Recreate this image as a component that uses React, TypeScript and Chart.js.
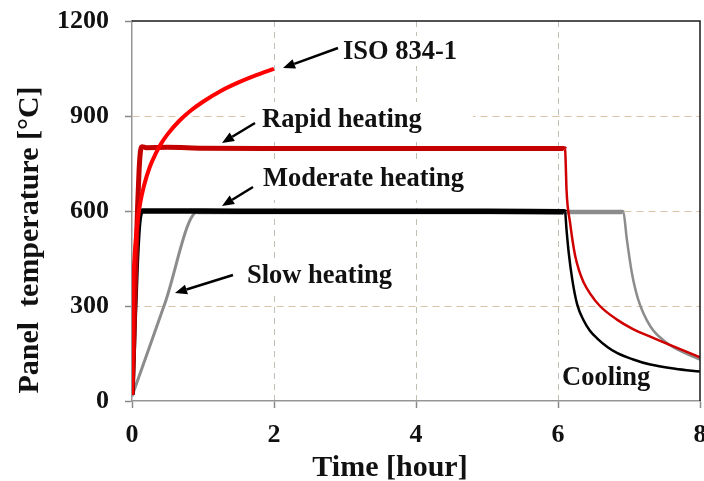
import React, { useEffect, useRef } from 'react';
import { Chart, registerables } from 'chart.js';

Chart.register(...registerables);

// ---- Data (time in hours, temperature in °C) ----
const isoTime = [0, 0.0167, 0.0333, 0.05, 0.0833, 0.1167, 0.1667, 0.25, 0.333, 0.4167, 0.5, 0.667, 0.833, 1.0, 1.25, 1.5, 1.75, 2.0];
const isoTemp = [20, 349, 445, 502, 576, 626, 678, 739, 781, 815, 842, 885, 918, 945, 979, 1006, 1029, 1049];

const rapidTime = [0, 0.02, 0.04, 0.06, 0.08, 0.1, 0.12, 0.14, 0.2, 0.5, 1, 2, 3, 4, 5, 6.08, 6.1, 6.11, 6.12, 6.17, 6.24, 6.3, 6.36, 6.45, 6.59, 6.83, 7.05, 7.3, 7.6, 8];
const rapidTemp = [20, 150, 320, 480, 620, 730, 790, 803, 800, 801, 798, 797, 797, 797, 797, 797, 795, 740, 667, 563, 460, 410, 375, 340, 300, 257, 228, 203, 175, 138];

const moderateTime = [0, 0.03, 0.06, 0.09, 0.12, 0.15, 1, 2, 3, 4, 5, 6.08, 6.1, 6.12, 6.15, 6.2, 6.27, 6.36, 6.45, 6.55, 6.7, 6.83, 7.05, 7.3, 7.65, 8];
const moderateTemp = [20, 250, 430, 550, 595, 600, 600, 599, 599, 599, 599, 598, 596, 541, 470, 385, 305, 255, 222, 198, 170, 152, 132, 115, 102, 93];

const slowTime = [0, 0.46, 0.92, 2, 3, 4, 5, 6, 6.9, 6.92, 6.97, 7.04, 7.13, 7.3, 7.53, 7.75, 8];
const slowTemp = [15, 306, 597, 597, 597, 597, 597, 597, 597, 596, 510, 405, 320, 236, 184, 155, 131];

const xTickValues = [0, 2, 4, 6, 8];
const yTickValues = [0, 300, 600, 900, 1200];

const xTitle = 'Time [hour]';
const yTitle = 'Panel  temperature [°C]';
const labelTexts = ['ISO 834-1', 'Rapid heating', 'Moderate heating', 'Slow heating', 'Cooling'];

const toPoints = (xs: number[], ys: number[]) => xs.map((x, i) => ({ x, y: ys[i] }));

const FONT = "'Liberation Serif', 'Times New Roman', serif";

function drawArrow(ctx: CanvasRenderingContext2D, x1: number, y1: number, x2: number, y2: number) {
  const ang = Math.atan2(y2 - y1, x2 - x1);
  const headLen = 12;
  const headHalf = 5;
  const bx = x2 - headLen * Math.cos(ang);
  const by = y2 - headLen * Math.sin(ang);
  ctx.strokeStyle = '#000';
  ctx.fillStyle = '#000';
  ctx.lineWidth = 2.5;
  ctx.beginPath();
  ctx.moveTo(x1, y1);
  ctx.lineTo(bx, by);
  ctx.stroke();
  ctx.beginPath();
  ctx.moveTo(x2, y2);
  ctx.lineTo(bx + headHalf * Math.sin(ang), by - headHalf * Math.cos(ang));
  ctx.lineTo(bx - headHalf * Math.sin(ang), by + headHalf * Math.cos(ang));
  ctx.closePath();
  ctx.fill();
}

const overlayPlugin = {
  id: 'overlay',
  beforeDatasetsDraw(chart: any) {
    const { ctx } = chart;
    ctx.save();
    ctx.fillStyle = '#ffffff';
    // white boxes behind annotation texts (hide gridlines)
    ctx.fillRect(340, 36, 122, 30);
    ctx.fillRect(245, 102, 228, 35);
    ctx.fillRect(255, 160, 215, 40);
    ctx.fillRect(243, 260, 150, 32);
    ctx.fillRect(560, 364, 88, 31);
    ctx.restore();
  },
  afterDatasetsDraw(chart: any) {
    const { ctx, chartArea: a } = chart;
    ctx.save();
    // top and right frame
    ctx.strokeStyle = '#1a1a1a';
    ctx.lineWidth = 1.5;
    ctx.beginPath();
    ctx.moveTo(a.left, a.top);
    ctx.lineTo(a.right, a.top);
    ctx.lineTo(a.right, a.bottom);
    ctx.stroke();

    // annotation texts
    ctx.fillStyle = '#111';
    ctx.font = `bold 26.5px ${FONT}`;
    ctx.textAlign = 'left';
    ctx.textBaseline = 'alphabetic';
    ctx.fillText(labelTexts[0], 343, 59);
    ctx.fillText(labelTexts[1], 262, 127);
    ctx.fillText(labelTexts[2], 263, 186);
    ctx.fillText(labelTexts[3], 247, 283);
    ctx.fillText(labelTexts[4], 562, 385);

    // arrows
    drawArrow(ctx, 338, 48, 283, 68);
    drawArrow(ctx, 255, 123, 222, 143);
    drawArrow(ctx, 253, 187, 222, 206);
    drawArrow(ctx, 233, 275, 175, 293);
    ctx.restore();
  },
  afterDraw(chart: any) {
    const { ctx } = chart;
    ctx.save();
    ctx.fillStyle = '#111';
    ctx.font = `bold 30px ${FONT}`;
    ctx.textAlign = 'center';
    ctx.textBaseline = 'alphabetic';
    ctx.fillText(xTitle, 390, 476);
    ctx.translate(38, 240);
    ctx.rotate(-Math.PI / 2);
    ctx.fillText(yTitle, 0, 0);
    ctx.restore();
  },
};

export default function App() {
  const canvasRef = useRef<HTMLCanvasElement | null>(null);

  useEffect(() => {
    const canvas = canvasRef.current;
    if (!canvas) return;
    const splitWidth = (cut: number, before: number, after: number) => (ctx: any) =>
      ctx.p0.parsed.x >= cut ? after : before;

    const chart = new Chart(canvas, {
      type: 'line',
      data: {
        datasets: [
          {
            label: labelTexts[0],
            data: toPoints(isoTime, isoTemp),
            borderColor: '#ff0000',
            borderWidth: 4,
            pointRadius: 0,
            cubicInterpolationMode: 'monotone',
          },
          {
            label: labelTexts[1],
            data: toPoints(rapidTime, rapidTemp),
            borderColor: '#c40000',
            borderWidth: 5,
            pointRadius: 0,
            cubicInterpolationMode: 'monotone',
            segment: { borderWidth: splitWidth(6.1, 5, 2.5), borderColor: (c: any) => (c.p0.parsed.x >= 6.1 ? '#d00000' : '#c40000') },
          },
          {
            label: labelTexts[2],
            data: toPoints(moderateTime, moderateTemp),
            borderColor: '#000000',
            borderWidth: 5.5,
            pointRadius: 0,
            cubicInterpolationMode: 'monotone',
            segment: { borderWidth: splitWidth(6.1, 5.5, 2.5) },
          },
          {
            label: labelTexts[3],
            data: toPoints(slowTime, slowTemp),
            borderColor: '#8c8c8c',
            borderWidth: 3,
            pointRadius: 0,
            cubicInterpolationMode: 'monotone',
            segment: {
              borderWidth: (c: any) => (c.p0.parsed.x >= 6.92 ? 2.5 : c.p0.parsed.x >= 0.92 ? 4.5 : 3),
            },
          },
        ] as any,
      },
      options: {
        animation: false,
        responsive: false,
        maintainAspectRatio: false,
        layout: { padding: { top: 21, right: 4, left: 0, bottom: 0 } },
        plugins: {
          legend: { display: false },
          tooltip: { enabled: false },
          title: { display: false },
        },
        scales: {
          x: {
            type: 'linear',
            min: 0,
            max: 8,
            afterBuildTicks: (s: any) => {
              s.ticks = xTickValues.map((v) => ({ value: v }));
            },
            afterFit: (s: any) => {
              s.height = 80;
              s.paddingLeft = 0;
              s.paddingRight = 0;
            },
            ticks: {
              color: '#111',
              font: { family: FONT, size: 26, weight: 'bold' },
              padding: 12,
              maxRotation: 0,
              callback: (v: any) => String(v),
            },
            grid: {
              color: (c: any) => (c.tick && (c.tick.value === 0 || c.tick.value === 8) ? 'rgba(0,0,0,0)' : '#bcc2b2'),
              lineWidth: 1,
              tickColor: '#888',
              tickLength: 7,
              tickWidth: 1.5,
              tickBorderDash: [],
            },
            border: { display: true, color: '#959595', width: 1.5, dash: [6, 5] },
          },
          y: {
            type: 'linear',
            min: 0,
            max: 1200,
            afterBuildTicks: (s: any) => {
              s.ticks = yTickValues.map((v) => ({ value: v }));
            },
            afterFit: (s: any) => {
              s.width = 132;
              s.paddingTop = 0;
              s.paddingBottom = 0;
            },
            ticks: {
              color: '#111',
              font: { family: FONT, size: 26, weight: 'bold' },
              padding: 16,
              callback: (v: any) => String(v),
            },
            grid: {
              color: (c: any) => (c.tick && (c.tick.value === 0 || c.tick.value === 1200) ? 'rgba(0,0,0,0)' : '#d8c3a5'),
              lineWidth: 1,
              tickColor: '#888',
              tickLength: 7,
              tickWidth: 1.5,
              tickBorderDash: [],
            },
            border: { display: true, color: '#959595', width: 1.5, dash: [7, 5] },
          },
        },
      } as any,
      plugins: [overlayPlugin],
    });
    return () => chart.destroy();
  }, []);

  return (
    <div style={{ position: 'fixed', left: 0, top: 0, width: 704, height: 481, background: '#fff' }}>
      <canvas ref={canvasRef} width={704} height={481} style={{ display: 'block', width: 704, height: 481 }} />
    </div>
  );
}
